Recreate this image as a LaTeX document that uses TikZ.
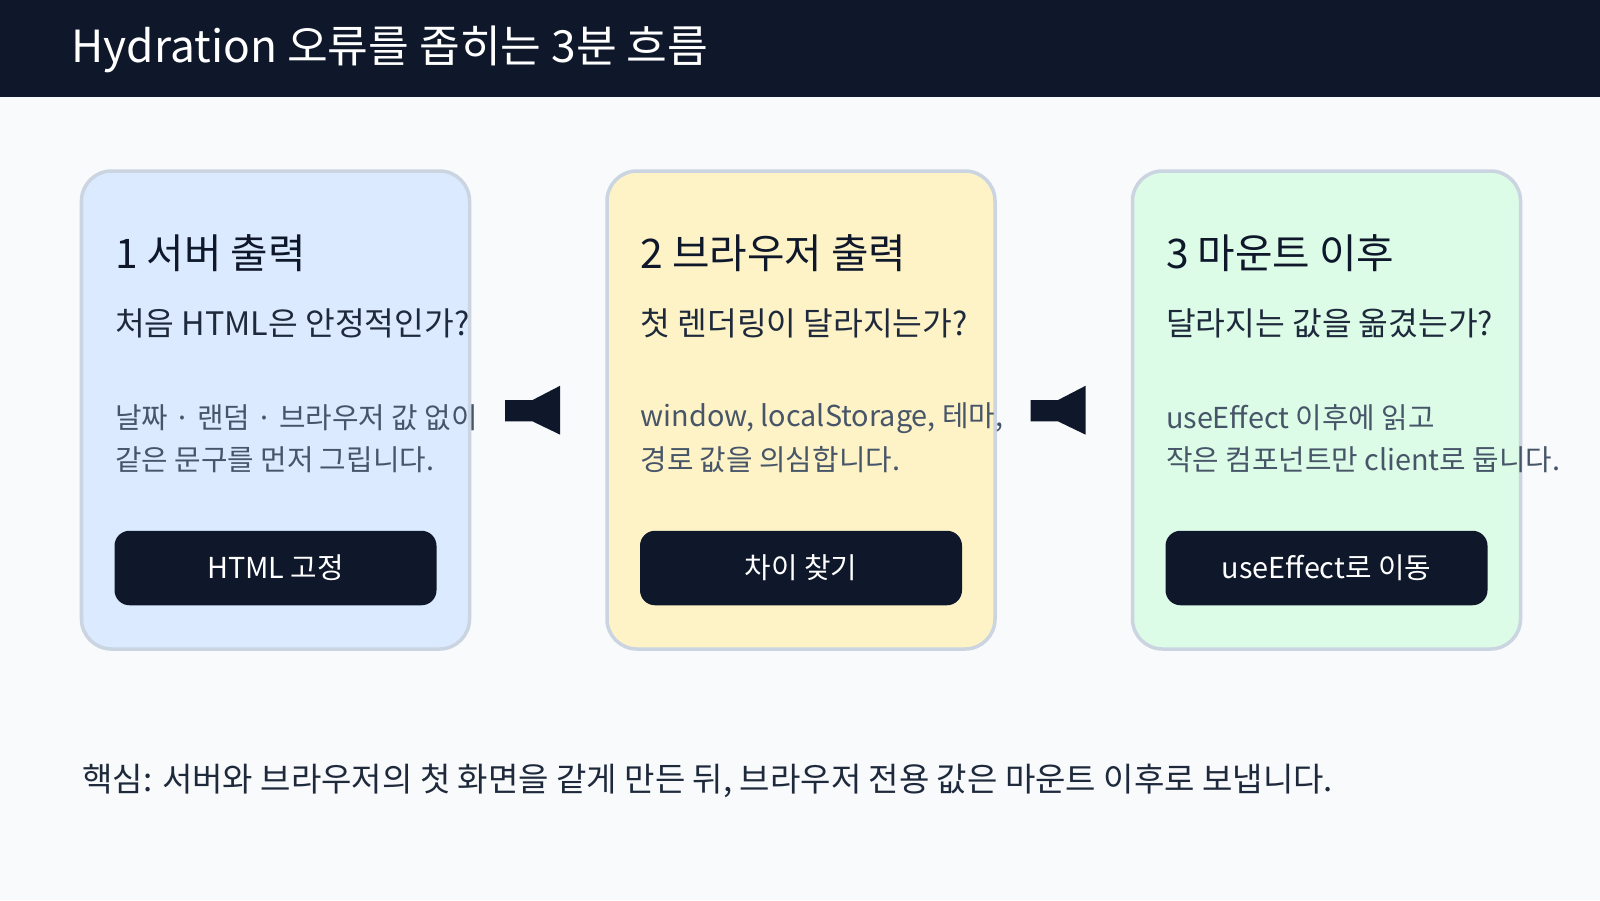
\documentclass[tikz,border=0pt]{standalone}
\usepackage{fontspec}
\setmainfont{Noto Sans CJK KR}
\usetikzlibrary{positioning,calc}
\definecolor{ink}{HTML}{0F172A}
\definecolor{sub}{HTML}{1E293B}
\definecolor{body}{HTML}{475569}
\definecolor{edge}{HTML}{CBD5E1}
\definecolor{bg}{HTML}{F8FAFC}
\definecolor{cblue}{HTML}{DBEAFE}
\definecolor{cyellow}{HTML}{FEF3C7}
\definecolor{cgreen}{HTML}{DCFCE7}
\tikzset{
  card/.style={draw=edge,line width=1pt,rounded corners=0.3cm,minimum width=3.88cm,minimum height=4.78cm},
  cardtitle/.style={anchor=west,inner sep=0,text=ink,font=\fontsize{11.6}{13}\selectfont},
  cardsub/.style={anchor=west,inner sep=0,text=sub,font=\fontsize{9.2}{11}\selectfont},
  cardbody/.style={anchor=west,inner sep=0,text=body,font=\fontsize{8.2}{10}\selectfont},
  btn/.style={fill=ink,rounded corners=0.15cm,minimum width=3.22cm,minimum height=0.745cm,text=white,font=\fontsize{8.2}{10}\selectfont},
  flow/.style={fill=ink}
}
\begin{document}
\begin{tikzpicture}
\useasboundingbox (0,0) rectangle (16,-9);
\fill[bg] (0,0) rectangle (16,-9);
\fill[ink] (0,0) rectangle (16,-0.97);
\node[anchor=west,inner sep=0,text=white,font=\fontsize{12.6}{14}\selectfont] (head) at (0.71,-0.49) {Hydration 오류를 좁히는 3분 흐름};
% card 1
\begin{scope}
  \node[card,fill=cblue] (C1) at (2.755,-4.10) {};
  \node[cardtitle] (T1) at (1.143,-2.53) {1 서버 출력};
  \node[cardsub] (S1) at (1.143,-3.235) {처음 HTML은 안정적인가?};
  \node[cardbody] (B1a) at (1.143,-4.18) {날짜 · 랜덤 · 브라우저 값 없이};
  \node[cardbody] (B1b) at (1.143,-4.60) {같은 문구를 먼저 그립니다.};
  \node[btn] (K1) at (2.755,-5.68) {HTML 고정};
\end{scope}
% card 2
\begin{scope}[xshift=5.255cm]
  \node[card,fill=cyellow] (C2) at (2.755,-4.10) {};
  \node[cardtitle] (T2) at (1.143,-2.53) {2 브라우저 출력};
  \node[cardsub] (S2) at (1.143,-3.235) {첫 렌더링이 달라지는가?};
  \node[cardbody] (B2a) at (1.143,-4.18) {window, localStorage, 테마,};
  \node[cardbody] (B2b) at (1.143,-4.60) {경로 값을 의심합니다.};
  \node[btn] (K2) at (2.755,-5.68) {차이 찾기};
\end{scope}
% card 3
\begin{scope}[xshift=10.51cm]
  \node[card,fill=cgreen] (C3) at (2.755,-4.10) {};
  \node[cardtitle] (T3) at (1.143,-2.53) {3 마운트 이후};
  \node[cardsub] (S3) at (1.143,-3.235) {달라지는 값을 옮겼는가?};
  \node[cardbody] (B3a) at (1.143,-4.18) {useEffect 이후에 읽고};
  \node[cardbody] (B3b) at (1.143,-4.60) {작은 컴포넌트만 client로 둡니다.};
  \node[btn] (K3) at (2.755,-5.68) {useEffect로 이동};
\end{scope}
% flow marks between cards
\foreach\x in {5.05,10.305} {
  \fill[flow] (\x,-4.00) -- ++(0.276,0) -- ++(0.276,0.143) -- ++(0,-0.49) -- ++(-0.276,0.133) -- ++(-0.276,0) -- cycle;
}
\node[anchor=west,inner sep=0,text=sub,font=\fontsize{9.4}{11}\selectfont] (note) at (0.816,-7.81) {핵심: 서버와 브라우저의 첫 화면을 같게 만든 뒤, 브라우저 전용 값은 마운트 이후로 보냅니다.};
\end{tikzpicture}
\end{document}
